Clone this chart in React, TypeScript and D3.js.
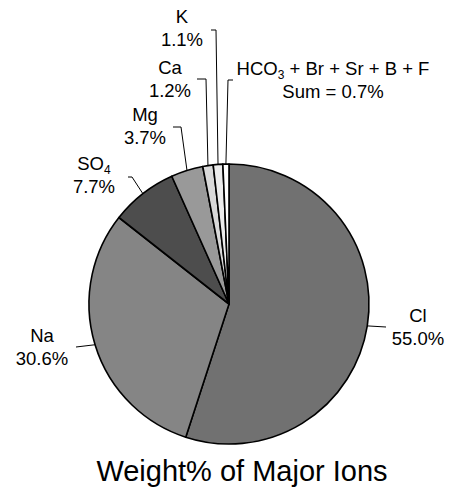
import React, { useEffect, useRef } from 'react';
import * as d3 from 'd3';

// slice data, clockwise from 12 o'clock
const ions = ['Cl', 'Na', 'SO4', 'Mg', 'Ca', 'K', 'Other'];
const percents = [55.0, 30.6, 7.7, 3.7, 1.2, 1.1, 0.7];
const fills = ['#717171', '#858585', '#4d4d4d', '#999999', '#d9d9d9', '#ececec', '#ffffff'];

// label text lines: [main, sub, rest]
const labelLines: [string, string, string][][] = [
  [['Cl', '', ''], ['55.0%', '', '']],
  [['Na', '', ''], ['30.6%', '', '']],
  [['SO', '4', ''], ['7.7%', '', '']],
  [['Mg', '', ''], ['3.7%', '', '']],
  [['Ca', '', ''], ['1.2%', '', '']],
  [['K', '', ''], ['1.1%', '', '']],
  [['HCO', '3', ' + Br + Sr + B + F'], ['Sum = 0.7%', '', '']],
];

// label placement (text centre/baseline of first line, leader elbow)
interface LabelPos { tx: number; ty: number; ex: number; ey: number; hx: number | null; }
const labelPos: LabelPos[] = [
  { tx: 418, ty: 322, ex: 386, ey: 327, hx: null },
  { tx: 42, ty: 342, ex: 76, ey: 347, hx: null },
  { tx: 94, ty: 170, ex: 132, ey: 177, hx: 128 },
  { tx: 145, ty: 121, ex: 181, ey: 127, hx: 173 },
  { tx: 170, ty: 74, ex: 206, ey: 79, hx: 197 },
  { tx: 182, ty: 23, ex: 216, ey: 30, hx: 211 },
  { tx: 333, ty: 75, ex: 228, ey: 80, hx: 233 },
];

const W = 456;
const H = 492;
const cx = 229;
const cy = 304;
const radius = 140;
const font = 'Liberation Sans, Arial, Helvetica, sans-serif';

const PieChart: React.FC = () => {
  const svgRef = useRef<SVGSVGElement>(null);

  useEffect(() => {
    if (!svgRef.current) return;
    const svg = d3.select(svgRef.current);
    svg.selectAll('*').remove();

    const data = ions.map((name, i) => ({ name, value: percents[i], i }));
    const pie = d3.pie<typeof data[0]>().value(d => d.value).sort(null);
    const arcs = pie(data);
    const arc = d3.arc<d3.PieArcDatum<typeof data[0]>>().innerRadius(0).outerRadius(radius);

    const g = svg.append('g').attr('transform', `translate(${cx},${cy})`);

    g.selectAll('path.slice')
      .data(arcs)
      .join('path')
      .attr('class', 'slice')
      .attr('d', arc)
      .attr('fill', d => fills[d.data.i])
      .attr('stroke', '#000')
      .attr('stroke-width', 1.6)
      .attr('stroke-linejoin', 'round');

    // leader lines
    const leaders = svg.append('g').attr('fill', 'none').attr('stroke', '#000').attr('stroke-width', 1);
    arcs.forEach(a => {
      const p = labelPos[a.data.i];
      const mid = (a.startAngle + a.endAngle) / 2;
      const px = cx + radius * Math.sin(mid);
      const py = cy - radius * Math.cos(mid);
      const pts: [number, number][] = [[px, py], [p.ex, p.ey]];
      if (p.hx !== null) pts.push([p.hx, p.ey]);
      leaders.append('path').attr('d', d3.line()(pts));
    });

    // labels
    const labels = svg.append('g')
      .attr('font-family', font)
      .attr('font-size', 18.5)
      .attr('fill', '#000')
      .attr('text-anchor', 'middle');
    arcs.forEach(a => {
      const p = labelPos[a.data.i];
      labelLines[a.data.i].forEach((line, li) => {
        const t = labels.append('text')
          .attr('x', p.tx)
          .attr('y', p.ty + li * 23);
        t.append('tspan').text(line[0]);
        if (line[1]) {
          t.append('tspan').attr('font-size', 12).attr('dy', 4).text(line[1]);
          if (line[2]) t.append('tspan').attr('dy', -4).text(line[2]);
        }
      });
    });

    svg.append('text')
      .attr('x', 242)
      .attr('y', 481)
      .attr('text-anchor', 'middle')
      .attr('font-family', font)
      .attr('font-size', 29)
      .attr('fill', '#000')
      .text('Weight% of Major Ions');
  }, []);

  return <svg ref={svgRef} width={W} height={H} style={{ display: 'block', background: '#fff' }} />;
};

export default function App() {
  return (
    <div>
      <style>{'body{margin:0;background:#fff}'}</style>
      <PieChart />
    </div>
  );
}
